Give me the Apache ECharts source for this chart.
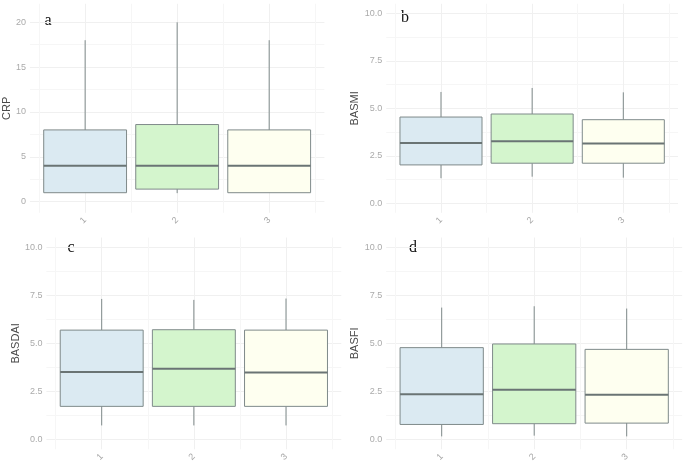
<!DOCTYPE html>
<html>
<head>
<meta charset="utf-8">
<script src="https://cdn.jsdelivr.net/npm/echarts@6/dist/echarts.min.js"></script>
<style>
  html, body { margin: 0; padding: 0; background: #fff; }
  #chart { width: 685px; height: 467px; }
</style>
</head>
<body>
<div id="chart"></div>
<script>
// groups on the x axis
var groups = [1, 2, 3];
var groupLabels = ['1', '2', '3'];
// box stats per group: [lower whisker, Q1, median, Q3, upper whisker]
var crp = [
  [1.0, 1.0, 4.0, 8.0, 18.0],
  [0.95, 1.4, 4.0, 8.6, 20.0],
  [1.0, 1.0, 4.0, 8.0, 18.0]
];
var basmi = [
  [1.32, 2.02, 3.18, 4.54, 5.86],
  [1.40, 2.11, 3.27, 4.70, 6.07],
  [1.35, 2.11, 3.15, 4.40, 5.84]
];
var basdai = [
  [0.74, 1.73, 3.52, 5.69, 7.31],
  [0.74, 1.73, 3.68, 5.71, 7.26],
  [0.74, 1.73, 3.49, 5.69, 7.33]
];
var basfi = [
  [0.17, 0.79, 2.36, 4.78, 6.86],
  [0.21, 0.83, 2.59, 4.97, 6.93],
  [0.17, 0.86, 2.33, 4.69, 6.81]
];
var yTicksCrp = [0, 5, 10, 15, 20];
var yTicksScore = [0, 2.5, 5, 7.5, 10];

var boxFills = ['#dbeaf2', '#d4f5cd', '#fefff0'];
var boxStroke = '#7f8a8a';
var medianStroke = '#6a7474';

var panels = [
  { name: 'CRP', tag: 'a', stats: crp, ticks: yTicksCrp, min: -1.24, max: 22.06, dec: 0,
    left: 28.9, top: 3.8, width: 295.5, height: 209, nameGap: 14, tagPos: [48, 21] },
  { name: 'BASMI', tag: 'b', stats: basmi, ticks: yTicksScore, min: -0.5, max: 10.5, dec: 1,
    left: 386.3, top: 3.8, width: 291.7, height: 209, nameGap: 22, tagPos: [405, 18] },
  { name: 'BASDAI', tag: 'c', stats: basdai, ticks: yTicksScore, min: -0.5, max: 10.5, dec: 1,
    left: 46.4, top: 237.5, width: 294.9, height: 211.8, nameGap: 22, tagPos: [71, 248] },
  { name: 'BASFI', tag: 'd', stats: basfi, ticks: yTicksScore, min: -0.5, max: 10.5, dec: 1,
    left: 386.2, top: 237.5, width: 296, height: 211.8, nameGap: 22, tagPos: [413, 248] }
];

function renderBox(params, api) {
  var x = api.value(0);
  var lo = api.value(1), q1 = api.value(2), med = api.value(3), q3 = api.value(4), hi = api.value(5);
  var half = 0.45;
  var tl = api.coord([x - half, q3]);
  var br = api.coord([x + half, q1]);
  var top = api.coord([x, hi]);
  var bot = api.coord([x, lo]);
  var mL = api.coord([x - half, med]);
  var mR = api.coord([x + half, med]);
  var fill = boxFills[params.dataIndex % boxFills.length];
  return {
    type: 'group',
    children: [
      { type: 'line', shape: { x1: top[0], y1: top[1], x2: top[0], y2: tl[1] },
        style: { stroke: boxStroke, lineWidth: 1 } },
      { type: 'line', shape: { x1: bot[0], y1: bot[1], x2: bot[0], y2: br[1] },
        style: { stroke: boxStroke, lineWidth: 1 } },
      { type: 'rect', shape: { x: tl[0], y: tl[1], width: br[0] - tl[0], height: br[1] - tl[1] },
        style: { fill: fill, stroke: boxStroke, lineWidth: 1 } },
      { type: 'line', shape: { x1: mL[0], y1: mL[1], x2: mR[0], y2: mR[1] },
        style: { stroke: medianStroke, lineWidth: 2 } }
    ]
  };
}

var grids = [], xAxes = [], yAxes = [], series = [], graphics = [];
panels.forEach(function (p, i) {
  grids.push({ left: p.left, top: p.top, width: p.width, height: p.height, containLabel: false });
  xAxes.push({
    type: 'value', gridIndex: i, min: 0.4, max: 3.6, minInterval: 1, maxInterval: 1,
    axisLine: { show: false }, axisTick: { show: false },
    axisLabel: {
      rotate: 45, margin: 6, color: '#a8a8a8', fontSize: 9, fontFamily: 'Liberation Sans',
      showMinLabel: false, showMaxLabel: false,
      formatter: function (v) {
        var k = groups.indexOf(v);
        return k >= 0 ? groupLabels[k] : '';
      }
    },
    splitLine: { show: true, showMinLine: false, showMaxLine: false, lineStyle: { color: '#f0f0f0', width: 1 } },
    minorTick: { show: false, splitNumber: 2 },
    minorSplitLine: { show: true, lineStyle: { color: '#f6f6f6', width: 1 } }
  });
  var step = p.ticks[1] - p.ticks[0];
  yAxes.push({
    type: 'value', gridIndex: i, min: p.min, max: p.max, minInterval: step, maxInterval: step,
    name: p.name, nameLocation: 'middle', nameRotate: 90, nameGap: p.nameGap,
    nameTextStyle: { color: '#4a4a4a', fontSize: 11, fontFamily: 'Liberation Sans' },
    axisLine: { show: false }, axisTick: { show: false },
    axisLabel: {
      margin: 4, color: '#aaaaaa', fontSize: 9, fontFamily: 'Liberation Sans',
      showMinLabel: false, showMaxLabel: false,
      formatter: function (v) {
        return p.ticks.indexOf(v) >= 0 ? v.toFixed(p.dec) : '';
      }
    },
    splitLine: { show: true, showMinLine: false, showMaxLine: false, lineStyle: { color: '#f0f0f0', width: 1 } },
    minorTick: { show: false, splitNumber: 2 },
    minorSplitLine: { show: true, lineStyle: { color: '#f6f6f6', width: 1 } }
  });
  series.push({
    type: 'custom', xAxisIndex: i, yAxisIndex: i, renderItem: renderBox,
    encode: { x: 0, y: [1, 2, 3, 4, 5] },
    data: p.stats.map(function (s, k) { return [groups[k]].concat(s); }),
    silent: true, clip: false
  });
  graphics.push({
    type: 'text', x: p.tagPos[0], y: p.tagPos[1],
    style: { text: p.tag, fill: '#111', font: '16px "Liberation Serif"', textAlign: 'center', textVerticalAlign: 'middle' }
  });
});

var myChart = echarts.init(document.getElementById('chart'), null, { renderer: 'canvas' });
myChart.setOption({
  animation: false,
  backgroundColor: '#ffffff',
  grid: grids,
  xAxis: xAxes,
  yAxis: yAxes,
  series: series,
  graphic: graphics
});
</script>
</body>
</html>
